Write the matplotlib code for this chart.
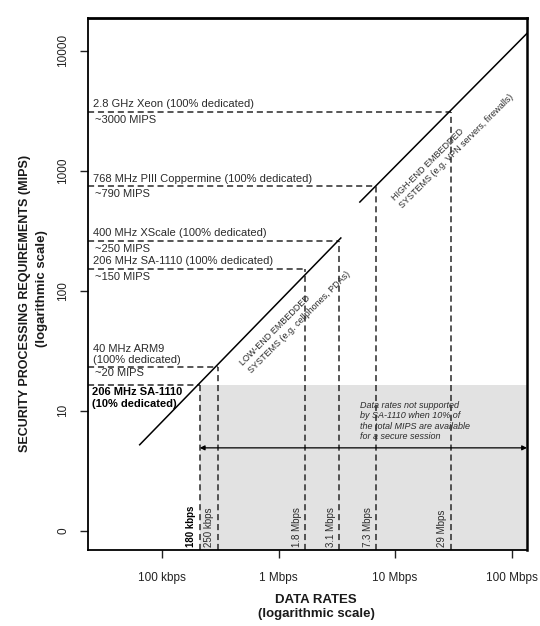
import numpy as np
import matplotlib.pyplot as plt
from matplotlib.ticker import NullLocator

plt.rcParams['font.family'] = ['Liberation Sans', 'DejaVu Sans']

# processors: name above the dashed line, MIPS note below it
cpu_names = ['2.8 GHz Xeon (100% dedicated)',
             '768 MHz PIII Coppermine (100% dedicated)',
             '400 MHz XScale (100% dedicated)',
             '206 MHz SA-1110 (100% dedicated)',
             '40 MHz ARM9\n(100% dedicated)',
             '206 MHz SA-1110\n(10% dedicated)']
cpu_notes = ['~3000 MIPS', '~790 MIPS', '~250 MIPS', '~150 MIPS', '~20 MIPS', '']
cpu_mips = [3100, 740, 260, 152, 23, 16.5]

# data rates each processor can sustain
rate_mbps = [30, 6.9, 3.3, 1.7, 0.30, 0.21]
rate_labels = ['29 Mbps', '7.3 Mbps', '3.1 Mbps', '1.8 Mbps', '250 kbps', '180 kbps']

# requirement lines (Mbps, MIPS)
low_end_x = [0.064, 3.42]
low_end_y = [5.2, 275]
high_end_x = [4.98, 136]
high_end_y = [548, 13960]

arrow_y = 4.9

x_ticks = [0.1, 1, 10, 100]
x_ticklabels = ['100 kbps', '1 Mbps', '10 Mbps', '100 Mbps']
y_ticks = [1, 10, 100, 1000, 10000]
y_ticklabels = ['0', '10', '100', '1000', '10000']

txt = '#2b2b2b'
dash = (0, (4, 2.5))

fig = plt.figure(figsize=(5.4, 6.26), dpi=100)
ax = fig.add_axes([87.5 / 540, 1 - 550 / 626, (527 - 87.5) / 540, (550 - 18) / 626])
ax.set_xscale('log')
ax.set_yscale('log')
xmin, xmax = 10 ** -1.642, 10 ** 2.133
ymin, ymax = 10 ** -0.161, 10 ** 4.2725
ax.set_xlim(xmin, xmax)
ax.set_ylim(ymin, ymax)

# region SA-1110 at 10% cannot handle
ax.fill_between([rate_mbps[-1], xmax], ymin, cpu_mips[-1], color='#e2e2e2', lw=0, zorder=0)

# dashed guides
for m, r in zip(cpu_mips, rate_mbps):
    ax.plot([xmin, r], [m, m], color='#2a2a2a', lw=1.1, ls=dash)
    ax.plot([r, r], [ymin, m], color='#2a2a2a', lw=1.1, ls=dash)

ax.plot(low_end_x, low_end_y, color='black', lw=1.1)
ax.plot(high_end_x, high_end_y, color='black', lw=1.1)

ax.annotate('', xy=(xmax, arrow_y), xytext=(rate_mbps[-1], arrow_y),
            arrowprops=dict(arrowstyle='<|-|>', color='black', lw=0.9,
                            mutation_scale=7, shrinkA=0, shrinkB=0))

# processor labels
ytr = ax.get_yaxis_transform()
for i, (name, note, m) in enumerate(zip(cpu_names, cpu_notes, cpu_mips)):
    if i == len(cpu_names) - 1:
        ax.annotate(name, xy=(0, m), xycoords=ytr, xytext=(3.5, -2), textcoords='offset points',
                    va='top', ha='left', fontsize=8, fontweight='bold', color='black',
                    linespacing=1.15)
        continue
    ax.annotate(name, xy=(0, m), xycoords=ytr, xytext=(4, 2), textcoords='offset points',
                va='bottom', ha='left', fontsize=8, color=txt, linespacing=1.1)
    off = -0.5 if i == 4 else -2
    ax.annotate(note, xy=(0, m), xycoords=ytr, xytext=(5.5, off), textcoords='offset points',
                va='top', ha='left', fontsize=8, color=txt)

# rate labels
xtr = ax.get_xaxis_transform()
for r, lbl in zip(rate_mbps, rate_labels):
    bold = lbl == '180 kbps'
    ax.annotate(lbl, xy=(r, 0), xycoords=xtr, xytext=(-6, 2), textcoords='offset points',
                rotation=90, ha='center', va='bottom', fontsize=7,
                fontweight='bold' if bold else 'normal', color='black' if bold else txt)

ax.text(1.38, 59, 'LOW-END EMBEDDED\nSYSTEMS (e.g. cellphones, PDAs)', rotation=45,
        rotation_mode='anchor', ha='center', va='center', multialignment='left',
        fontsize=6.5, color=txt, linespacing=1.3)
ax.text(31.3, 1570, 'HIGH-END EMBEDDED\nSYSTEMS (e.g. VPN servers, firewalls)', rotation=45,
        rotation_mode='anchor', ha='center', va='center', multialignment='left',
        fontsize=6.5, color=txt, linespacing=1.3)

ax.text(4.98, 12.1, 'Data rates not supported\nby SA-1110 when 10% of\nthe total MIPS are available\nfor a secure session',
        ha='left', va='top', fontsize=6.5, style='italic', color=txt, linespacing=1.2)

ax.set_xticks(x_ticks)
ax.set_xticklabels(x_ticklabels)
ax.set_yticks(y_ticks)
ax.set_yticklabels(y_ticklabels, rotation=90, va='center')
ax.xaxis.set_minor_locator(NullLocator())
ax.yaxis.set_minor_locator(NullLocator())
ax.tick_params(axis='both', length=6, width=1.0, labelsize=8.5, colors='#222222')
ax.tick_params(axis='x', pad=10)
ax.tick_params(axis='y', pad=7)

ax.spines['top'].set_linewidth(2.0)
ax.spines['right'].set_linewidth(1.8)
ax.spines['left'].set_linewidth(1.3)
ax.spines['bottom'].set_linewidth(1.3)

fig.text(25 / 540, 1 - 303 / 626, 'SECURITY PROCESSING REQUIREMENTS (MIPS)',
         rotation=90, ha='center', va='center', fontsize=9, fontweight='bold', color='#1a1a1a')
fig.text(42 / 540, 1 - 289 / 626, '(logarithmic scale)',
         rotation=90, ha='center', va='center', fontsize=9.5, fontweight='bold', color='#1a1a1a')
fig.text(316 / 540, 1 - 607 / 626, 'DATA RATES\n(logarithmic scale)',
         ha='center', va='center', multialignment='center',
         fontsize=9.5, fontweight='bold', color='#1a1a1a', linespacing=1.15)

fig.savefig('out.png', dpi=100)
